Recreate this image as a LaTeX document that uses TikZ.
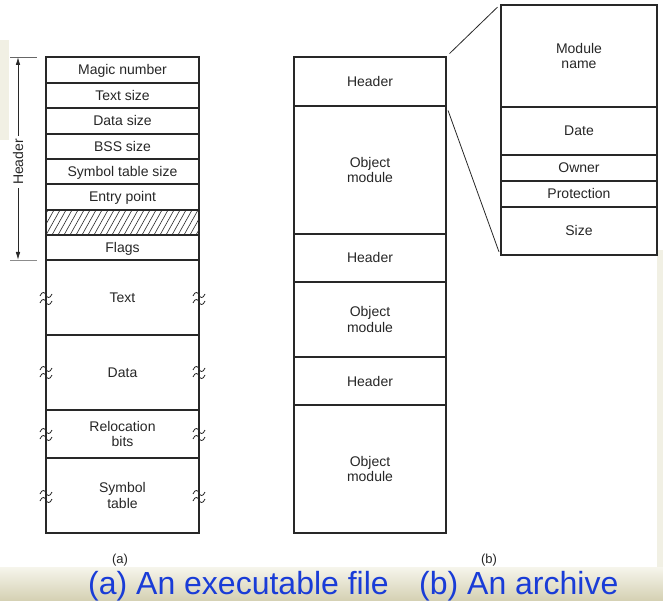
\documentclass[tikz,border=0pt]{standalone}
\usepackage{fontspec}
\usetikzlibrary{arrows.meta}
\setmainfont{Liberation Sans}
\definecolor{ink}{RGB}{40,40,40}
\definecolor{capblue}{RGB}{25,60,215}
\definecolor{beigeA}{RGB}{246,245,236}
\definecolor{beigeB}{RGB}{212,208,178}
\definecolor{beigeC}{RGB}{241,240,228}
\begin{document}
\begin{tikzpicture}[x=1pt,y=-1pt,
  cell/.style={draw=ink,line width=1.3pt,inner sep=0pt,text=black!85,
    font=\fontsize{14}{15.5}\selectfont,align=center,anchor=center,
    text height=10pt,text depth=0pt},
  two/.style={text height=25.5pt,text depth=0pt},
  colA/.style={cell,minimum width=153pt},
  colB/.style={cell,minimum width=152pt},
  colC/.style={cell,minimum width=156pt},
  zoomline/.style={draw=ink,line width=0.8pt,shorten >=4pt,shorten <=4pt},
  sublabel/.style={font=\fontsize{13}{15}\selectfont,text=black!85},
  bigcap/.style={font=\fontsize{32}{36}\selectfont,text=capblue,inner sep=0pt,anchor=base west},
  squig/.style={draw=ink,line width=0.8pt}
]
\useasboundingbox (0,0) rectangle (663,601);
% background hints
\shade[top color=beigeA,bottom color=beigeB] (0,567) rectangle (663,601);
\fill[beigeC] (657,250) rectangle (663,567);
\fill[beigeC] (0,40) rectangle (9,140);

% ---------- (a) executable file ----------
\node[colA,minimum height=26pt] (magic) at (122.5,70) {Magic number};
\node[colA,minimum height=25pt] (tsize) at (122.5,95.5) {Text size};
\node[colA,minimum height=26pt] (dsize) at (122.5,121) {Data size};
\node[colA,minimum height=25pt] (bss) at (122.5,146.5) {BSS size};
\node[colA,minimum height=25pt] (ssize) at (122.5,171.5) {Symbol table size};
\node[colA,minimum height=26pt] (entry) at (122.5,197) {Entry point};
\begin{scope}
  \clip (46,210) rectangle (199,235);
  \foreach \x in {28,34,...,202} \draw[ink,line width=0.6pt] (\x,235) -- (\x+14,210);
\end{scope}
\node[colA,minimum height=25pt] (hatch) at (122.5,222.5) {};
\node[colA,minimum height=25pt] (flags) at (122.5,247.5) {Flags};
\node[colA,minimum height=75pt] (text) at (122.5,297.5) {Text};
\node[colA,minimum height=75pt] (data) at (122.5,372.5) {Data};
\node[colA,two,minimum height=48pt] (reloc) at (122.5,434) {Relocation\\bits};
\node[colA,two,minimum height=75pt] (symtab) at (122.5,495.5) {Symbol\\table};

% break marks
\foreach \yy in {295,369,431,493}{
  \foreach \xx in {46,199}{
    \foreach \dy in {0,7}{
      \draw[squig] (\xx-6,\yy+\dy+1) .. controls (\xx-4,\yy+\dy-4) and (\xx-1,\yy+\dy-3) .. (\xx,\yy+\dy)
                   .. controls (\xx+1,\yy+\dy+3) and (\xx+4,\yy+\dy+4) .. (\xx+6,\yy+\dy-1);
    }
  }
}

% Header dimension
\coordinate (ht) at (18,57);
\coordinate (hb) at (18,260);
\coordinate (tl) at (10,57);
\coordinate (tr) at (37,57);
\coordinate (bl) at (10,260);
\coordinate (br) at (37,260);
\draw[black!60,line width=0.8pt] (tl) -- (tr);
\draw[black!45,line width=0.8pt] (bl) -- (br);
\draw[ink,line width=0.8pt,{Latex[length=8pt,width=4.5pt]}-{Latex[length=8pt,width=4.5pt]}] (ht) -- (hb);
\node[fill=white,rotate=90,inner sep=3pt,font=\fontsize{14}{15.5}\selectfont,text=black!85] (hlab) at (18,162) {Header};

\node[sublabel] (alab) at (120,560) {(a)};

% ---------- (b) archive ----------
\node[colB,minimum height=49pt] (hdr1) at (370,81.5) {Header};
\node[colB,two,minimum height=128pt] (obj1) at (370,170) {Object\\module};
\node[colB,minimum height=48pt] (hdr2) at (370,258) {Header};
\node[colB,two,minimum height=75pt] (obj2) at (370,319.5) {Object\\module};
\node[colB,minimum height=48pt] (hdr3) at (370,381) {Header};
\node[colB,two,minimum height=128pt] (obj3) at (370,469) {Object\\module};

\node[colC,two,minimum height=102pt] (mname) at (579,56) {Module\\name};
\node[colC,minimum height=48pt] (date) at (579,131) {Date};
\node[colC,minimum height=26pt] (owner) at (579,168) {Owner};
\node[colC,minimum height=26pt] (prot) at (579,194) {Protection};
\node[colC,minimum height=48pt] (size) at (579,231) {Size};

\draw[zoomline] (hdr1.north east) -- (mname.north west);
\draw[zoomline] (hdr1.south east) -- (size.south west);

\node[sublabel] (blab) at (489,560) {(b)};

% caption
\node[bigcap] (capa) at (88,594.5) {(a) An executable file};
\node[bigcap] (capb) at (419,594.5) {(b) An archive};
\end{tikzpicture}
\end{document}
